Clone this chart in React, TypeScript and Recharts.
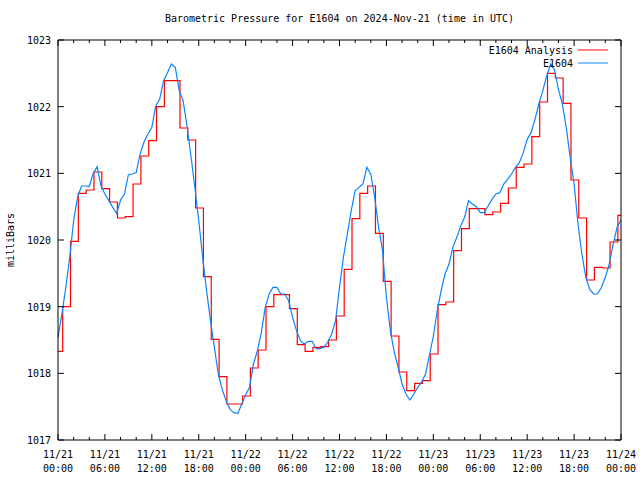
import React from 'react';
import { LineChart, Line, XAxis, YAxis } from 'recharts';

// Analysis series: hourly steps (hours since 11/21 00:00 UTC)
const analysisTimes = [
  0, 0.6, 1.6, 2.6, 3.6, 4.6, 5.6, 6.6, 7.6, 8.6, 9.6, 10.6, 11.6, 12.6, 13.6, 14.6, 15.6, 16.6, 17.6, 18.6,
  19.6, 20.6, 21.6, 22.6, 23.6, 24.6, 25.6, 26.6, 27.6, 28.6, 29.6, 30.6, 31.6, 32.6, 33.6, 34.6, 35.6, 36.6,
  37.6, 38.6, 39.6, 40.6, 41.6, 42.6, 43.6, 44.6, 45.6, 46.6, 47.6, 48.6, 49.6, 50.6, 51.6, 52.6, 53.6, 54.6,
  55.6, 56.6, 57.6, 58.6, 59.6, 60.6, 61.6, 62.6, 63.6, 64.6, 65.6, 66.6, 67.6, 68.6, 69.6, 70.6, 71.6, 72,
];
const analysisValues = [
  1018.33, 1019.0, 1019.98, 1020.7, 1020.75, 1021.02, 1020.77, 1020.57, 1020.33, 1020.35, 1020.84, 1021.26,
  1021.49, 1022.0, 1022.39, 1022.39, 1021.68, 1021.5, 1020.48, 1019.45, 1018.51, 1017.95, 1017.54, 1017.54,
  1017.66, 1018.08, 1018.35, 1019.0, 1019.18, 1019.18, 1018.97, 1018.43, 1018.33, 1018.39, 1018.4, 1018.5,
  1018.86, 1019.56, 1020.32, 1020.7, 1020.81, 1020.1, 1019.38, 1018.56, 1018.02, 1017.74, 1017.85, 1017.89,
  1018.29, 1019.03, 1019.07, 1019.84, 1020.17, 1020.47, 1020.47, 1020.38, 1020.42, 1020.55, 1020.78, 1021.09,
  1021.14, 1021.55, 1022.07, 1022.5, 1022.43, 1022.05, 1020.9, 1020.33, 1019.4, 1019.59, 1019.58, 1019.97,
  1020.37, 1020.37,
];

// Station series: half-hourly readings
const stationTimes = [
  0, 0.5, 1, 1.5, 2, 2.5, 3, 3.5, 4, 4.5, 5, 5.5, 6, 6.5, 7, 7.5, 8, 8.5, 9, 9.5, 10, 10.5, 11, 11.5,
  12, 12.5, 13, 13.5, 14, 14.5, 15, 15.5, 16, 16.5, 17, 17.5, 18, 18.5, 19, 19.5, 20, 20.5, 21, 21.5, 22, 22.5, 23, 23.5,
  24, 24.5, 25, 25.5, 26, 26.5, 27, 27.5, 28, 28.5, 29, 29.5, 30, 30.5, 31, 31.5, 32, 32.5, 33, 33.5, 34, 34.5, 35, 35.5,
  36, 36.5, 37, 37.5, 38, 38.5, 39, 39.5, 40, 40.5, 41, 41.5, 42, 42.5, 43, 43.5, 44, 44.5, 45, 45.5, 46, 46.5, 47, 47.5,
  48, 48.5, 49, 49.5, 50, 50.5, 51, 51.5, 52, 52.5, 53, 53.5, 54, 54.5, 55, 55.5, 56, 56.5, 57, 57.5, 58, 58.5, 59, 59.5,
  60, 60.5, 61, 61.5, 62, 62.5, 63, 63.5, 64, 64.5, 65, 65.5, 66, 66.5, 67, 67.5, 68, 68.5, 69, 69.5, 70, 70.5, 71, 71.5, 72,
];
const stationValues = [
  1018.54, 1018.89, 1019.29, 1019.74, 1020.29, 1020.64, 1020.81, 1020.81, 1020.8, 1021.0, 1021.1, 1020.81,
  1020.69, 1020.59, 1020.49, 1020.4, 1020.6, 1020.69, 1020.98, 1020.99, 1021.01, 1021.29, 1021.47, 1021.59,
  1021.69, 1022.01, 1022.11, 1022.39, 1022.51, 1022.64, 1022.59, 1022.24, 1022.09, 1021.71, 1021.26, 1020.79,
  1020.29, 1019.74, 1019.24, 1018.79, 1018.39, 1017.99, 1017.76, 1017.59, 1017.46, 1017.41, 1017.4, 1017.54,
  1017.68, 1017.79, 1018.14, 1018.34, 1018.61, 1018.99, 1019.19, 1019.29, 1019.29, 1019.19, 1019.19, 1019.09,
  1018.84, 1018.64, 1018.49, 1018.44, 1018.48, 1018.48, 1018.37, 1018.37, 1018.39, 1018.47, 1018.59, 1018.79,
  1019.29, 1019.74, 1020.09, 1020.44, 1020.74, 1020.79, 1020.84, 1021.09, 1020.99, 1020.64, 1020.19, 1019.84,
  1019.14, 1018.64, 1018.32, 1018.09, 1017.84, 1017.69, 1017.6, 1017.69, 1017.79, 1017.87, 1017.99, 1018.27,
  1018.56, 1018.94, 1019.24, 1019.49, 1019.64, 1019.89, 1020.04, 1020.21, 1020.34, 1020.59, 1020.54, 1020.5,
  1020.41, 1020.41, 1020.51, 1020.61, 1020.69, 1020.71, 1020.84, 1020.91, 1020.99, 1021.09, 1021.16, 1021.31,
  1021.51, 1021.61, 1021.81, 1022.04, 1022.24, 1022.46, 1022.64, 1022.55, 1022.26, 1022.04, 1021.69, 1021.24,
  1020.84, 1020.24, 1019.79, 1019.44, 1019.26, 1019.19, 1019.19, 1019.29, 1019.44, 1019.64, 1019.94, 1020.19,
  1020.3,
];

const xTicks = [0, 2, 4, 6, 8, 10, 12, 14, 16, 18, 20, 22, 24, 26, 28, 30, 32, 34, 36, 38, 40, 42, 44, 46, 48, 50, 52, 54, 56, 58, 60, 62, 64, 66, 68, 70, 72];
const yTicks = [1017, 1018, 1019, 1020, 1021, 1022, 1023];

const analysisData = analysisTimes.map((t, i) => ({ t, v: analysisValues[i] }));
const stationData = stationTimes.map((t, i) => ({ t, v: stationValues[i] }));

const FONT = "'DejaVu Sans Mono', monospace";
const RED = '#ff0000';
const BLUE = '#0a84ff';

const pad = (n: number) => (n < 10 ? '0' + n : '' + n);

// bottom axis: inward tick + two-line date label
const BottomTick = (props: any) => {
  const { x, y, payload } = props;
  const h = payload.value;
  const major = h % 6 === 0;
  const day = 21 + Math.floor(h / 24);
  return (
    <g>
      <line x1={x} y1={y} x2={x} y2={y - (major ? 6 : 3)} stroke="#000" />
      {major && (
        <text x={x} y={y + 18} textAnchor="middle" fontFamily={FONT} fontSize={10} fill="#000">
          <tspan x={x}>{`11/${day}`}</tspan>
          <tspan x={x} dy={14}>{`${pad(h % 24)}:00`}</tspan>
        </text>
      )}
    </g>
  );
};

const TopTick = (props: any) => {
  const { x, y, payload } = props;
  const major = payload.value % 6 === 0;
  return <line x1={x} y1={y} x2={x} y2={y + (major ? 6 : 3)} stroke="#000" />;
};

const LeftTick = (props: any) => {
  const { x, y, payload } = props;
  return (
    <g>
      <line x1={x} y1={y} x2={x + 6} y2={y} stroke="#000" />
      <text x={x - 7} y={y + 4} textAnchor="end" fontFamily={FONT} fontSize={10} fill="#000">
        {payload.value}
      </text>
    </g>
  );
};

const RightTick = (props: any) => {
  const { x, y } = props;
  return <line x1={x} y1={y} x2={x - 6} y2={y} stroke="#000" />;
};

export default function App() {
  return (
    <div style={{ position: 'absolute', left: 0, top: 0, width: 640, height: 480, background: '#fff' }}>
      <div
        style={{
          position: 'absolute', left: 58, width: 563, top: 13, textAlign: 'center',
          fontFamily: FONT, fontSize: 10, color: '#000',
        }}
      >
        Barometric Pressure for E1604 on 2024-Nov-21 (time in UTC)
      </div>
      <div
        style={{
          position: 'absolute', left: 10, top: 240, transform: 'translate(-50%, -50%) rotate(-90deg)',
          fontFamily: FONT, fontSize: 10, color: '#000', whiteSpace: 'nowrap',
        }}
      >
        milliBars
      </div>
      <LineChart width={640} height={480} margin={{ top: 0, right: 0, bottom: 0, left: 0 }}>
        <XAxis
          dataKey="t" type="number" domain={[0, 72]} ticks={xTicks} interval={0}
          height={40} tickSize={0} tickMargin={0} tickLine={false}
          axisLine={{ stroke: '#000' }} tick={<BottomTick />} allowDuplicatedCategory={false}
        />
        <XAxis
          xAxisId="top" orientation="top" dataKey="t" type="number" domain={[0, 72]} ticks={xTicks} interval={0}
          height={40} tickSize={0} tickMargin={0} tickLine={false}
          axisLine={{ stroke: '#000' }} tick={<TopTick />} allowDuplicatedCategory={false}
        />
        <YAxis
          type="number" domain={[1017, 1023]} ticks={yTicks} interval={0}
          width={58} tickSize={0} tickMargin={0} tickLine={false}
          axisLine={{ stroke: '#000' }} tick={<LeftTick />}
        />
        <YAxis
          yAxisId="right" orientation="right" type="number" domain={[1017, 1023]} ticks={yTicks} interval={0}
          width={19} tickSize={0} tickMargin={0} tickLine={false}
          axisLine={{ stroke: '#000' }} tick={<RightTick />}
        />
        <Line
          data={analysisData} dataKey="v" name="E1604 Analysis" type="stepAfter"
          stroke={RED} strokeWidth={1.2} dot={false} activeDot={false} isAnimationActive={false}
        />
        <Line
          data={stationData} dataKey="v" name="E1604" type="linear"
          stroke={BLUE} strokeWidth={1.2} dot={false} activeDot={false} isAnimationActive={false}
        />
        <Line
          xAxisId="top" yAxisId="right" data={stationData} dataKey="v" stroke="none"
          dot={false} activeDot={false} legendType="none" isAnimationActive={false}
        />
      </LineChart>
      {/* legend, top right inside the frame */}
      <svg width={140} height={28} style={{ position: 'absolute', left: 470, top: 43 }}>
        <text x={103} y={10.5} textAnchor="end" fontFamily={FONT} fontSize={10} fill="#000">E1604 Analysis</text>
        <line x1={108} y1={7} x2={138} y2={7} stroke={RED} />
        <text x={103} y={23.5} textAnchor="end" fontFamily={FONT} fontSize={10} fill="#000">E1604</text>
        <line x1={108} y1={20} x2={138} y2={20} stroke={BLUE} />
      </svg>
    </div>
  );
}
